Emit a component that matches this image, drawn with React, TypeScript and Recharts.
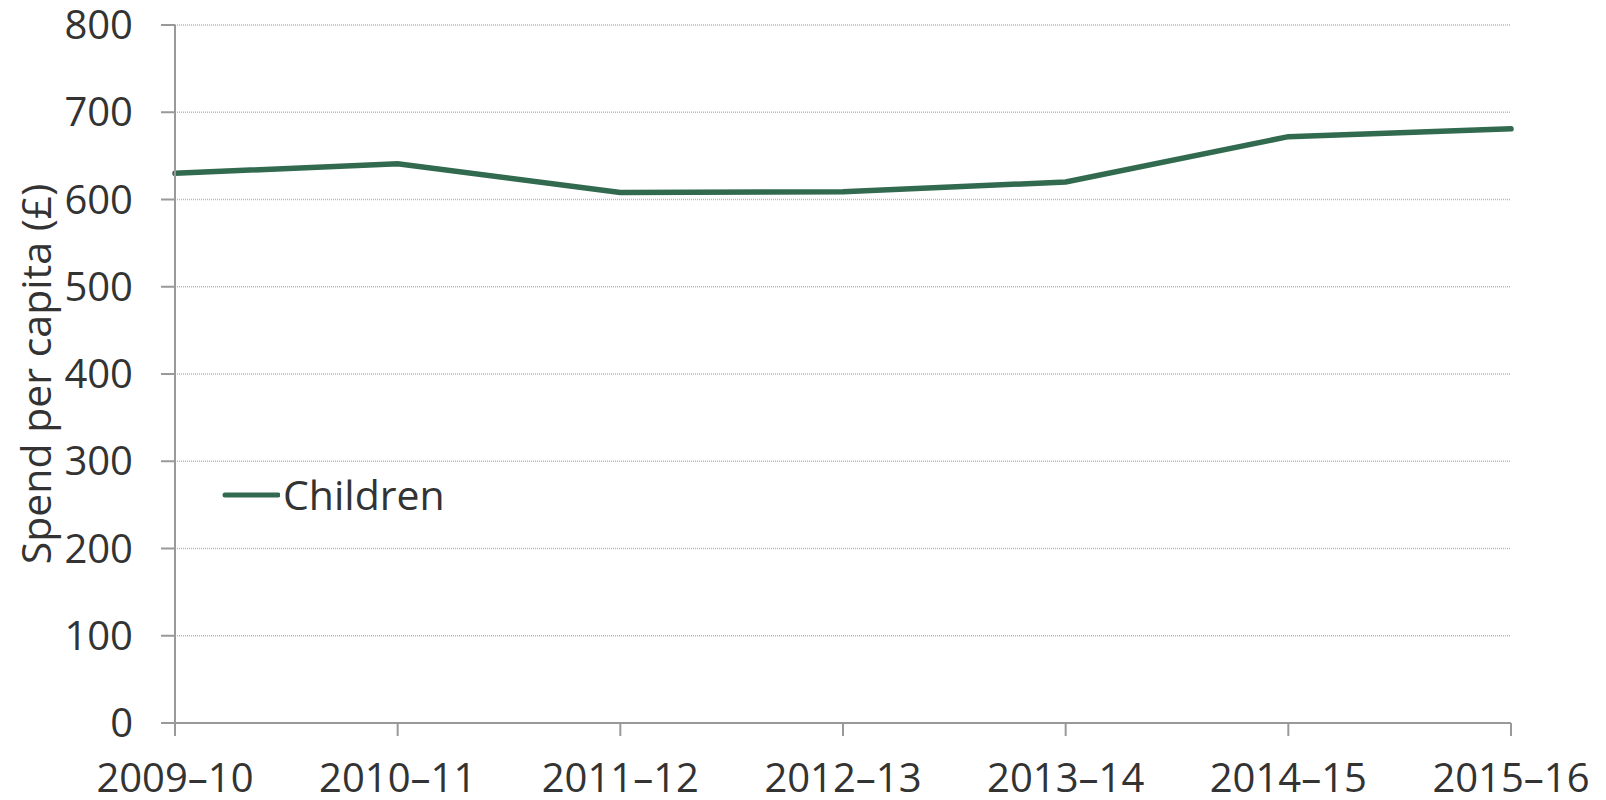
import React from "react";
import {
  LineChart,
  Line,
  XAxis,
  YAxis,
  CartesianGrid,
} from "recharts";

const years = ["2009–10", "2010–11", "2011–12", "2012–13", "2013–14", "2014–15", "2015–16"];
const childrenSpend = [630, 641, 608, 609, 620, 672, 681];
const yTicks = [0, 100, 200, 300, 400, 500, 600, 700, 800];

const LINE_COLOR = "#326a4f";
const TEXT_COLOR = "#333333";
const FONT = "'Open Sans', 'Noto Sans', sans-serif";

const data = years.map((year, i) => ({ year, children: childrenSpend[i] }));

/** Legend drawn as a short line and the series name, laid over the plot */
function ChildrenLegend() {
  return (
    <div
      style={{
        position: "absolute",
        left: 222,
        top: 474,
        display: "flex",
        alignItems: "center",
        fontFamily: FONT,
      }}
    >
      <svg width={58} height={10}>
        <line x1={3} y1={5} x2={56} y2={5} stroke={LINE_COLOR} strokeWidth={5} strokeLinecap="round" />
      </svg>
      <span style={{ fontSize: 41, color: TEXT_COLOR, marginLeft: 3, lineHeight: 1 }}>Children</span>
    </div>
  );
}

export default function App() {
  const tickStyle = { fontSize: 40, fill: TEXT_COLOR, fontFamily: FONT };
  return (
    <div style={{ position: "fixed", left: 0, top: 0, width: 1606, height: 800, background: "#fff" }}>
      <LineChart
        width={1606}
        height={800}
        data={data}
        margin={{ top: 25, right: 95, left: 0, bottom: 0 }}
      >
        <CartesianGrid
          horizontal
          vertical={false}
          stroke="#b8b8b8"
          strokeDasharray="1 1"
          strokeWidth={1.5}
        />
        <XAxis
          dataKey="year"
          height={77}
          tick={tickStyle}
          tickSize={13}
          tickMargin={28}
          axisLine={{ stroke: "#999", strokeWidth: 2 }}
          tickLine={{ stroke: "#999", strokeWidth: 2 }}
          interval={0}
        />
        <YAxis
          width={175}
          domain={[0, 800]}
          ticks={yTicks}
          tick={tickStyle}
          tickSize={14}
          tickMargin={28}
          axisLine={{ stroke: "#999", strokeWidth: 2 }}
          tickLine={{ stroke: "#999", strokeWidth: 2 }}
          label={{
            value: "Spend per capita (£)",
            angle: -90,
            position: "insideLeft",
            offset: 36,
            style: { textAnchor: "middle", fontSize: 41, fill: TEXT_COLOR, fontFamily: FONT },
          }}
        />
        <Line
          type="linear"
          dataKey="children"
          name="Children"
          stroke={LINE_COLOR}
          strokeWidth={5.5}
          strokeLinecap="round"
          dot={false}
          activeDot={false}
          isAnimationActive={false}
        />
      </LineChart>
      <ChildrenLegend />
    </div>
  );
}
